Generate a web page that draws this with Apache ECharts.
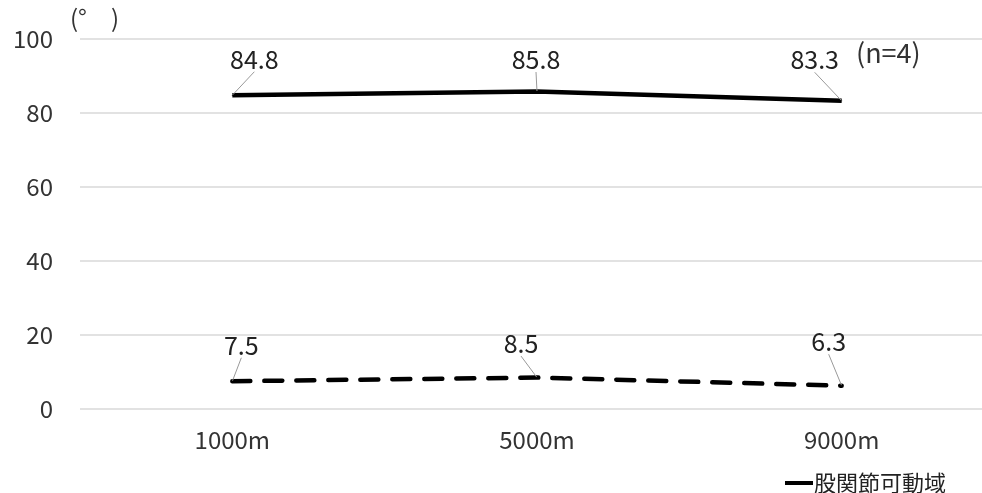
<!DOCTYPE html>
<html><head><meta charset="utf-8">
<script src="https://cdn.jsdelivr.net/npm/echarts@6/dist/echarts.min.js"></script>
<style>html,body{margin:0;padding:0;background:#fff}#c{width:982px;height:493px}</style>
</head><body><div id="c"></div>
<script>
const categories = ['1000m', '5000m', '9000m'];
const hipROM = [84.8, 85.8, 83.3];
const secondSeries = [7.5, 8.5, 6.3];
const yTicks = [0, 20, 40, 60, 80, 100];

const FONT = '"Noto Sans CJK JP", "Noto Sans", sans-serif';
const solidOffsets = [[22, -18], [-1, -14], [-27, -23]];
const dashOffsets = [[9, -18], [-16, -16], [-13, -26]];

const chart = echarts.init(document.getElementById('c'));
chart.setOption({
  animation: false,
  textStyle: { fontFamily: FONT },
  grid: { left: 80, width: 914, top: 39, bottom: 84, containLabel: false, outerBoundsMode: 'none' },
  xAxis: {
    type: 'category', data: categories, boundaryGap: true,
    axisLine: { show: false }, axisTick: { show: false },
    axisLabel: { fontSize: 24, color: '#333', margin: 19, fontFamily: FONT }
  },
  yAxis: {
    type: 'value', min: yTicks[0], max: yTicks[yTicks.length - 1], interval: 20,
    axisLine: { show: false }, axisTick: { show: false },
    axisLabel: { fontSize: 24, color: '#333', margin: 27, fontFamily: FONT },
    splitLine: { lineStyle: { color: '#d9d9d9', width: 1.5 } }
  },
  legend: {
    data: [{ name: '股関節可動域', icon: 'rect' }], left: 780, top: 467,
    itemWidth: 28, itemHeight: 4, itemGap: 4,
    textStyle: { fontSize: 22, color: '#222', fontFamily: FONT, padding: [0, 0, 0, -4] }
  },
  graphic: [
    { type: 'text', left: 70, top: 6, style: { text: '(°\u3000)', fontSize: 24, fill: '#333', fontFamily: FONT } },
    { type: 'text', left: 856, top: 39, style: { text: '(n=4)', fontSize: 27, fill: '#333', fontFamily: FONT } }
  ],
  series: [
    {
      name: '股関節可動域', type: 'line', data: hipROM, symbol: 'circle', symbolSize: 1, showSymbol: true,
      lineStyle: { color: '#000', width: 4.5 }, itemStyle: { color: '#000' },
      label: { show: true, position: 'top', fontSize: 25, color: '#222', fontFamily: FONT },
      labelLine: { show: true, lineStyle: { color: '#999', width: 1 } },
      labelLayout: p => ({ dx: solidOffsets[p.dataIndex][0], dy: solidOffsets[p.dataIndex][1] })
    },
    {
      name: 'other', type: 'line', data: secondSeries, symbol: 'circle', symbolSize: 1, showSymbol: true,
      lineStyle: { color: '#000', width: 4.5, type: [18, 14], cap: 'round' }, itemStyle: { color: '#000' },
      label: { show: true, position: 'top', fontSize: 25, color: '#222', fontFamily: FONT },
      labelLine: { show: true, lineStyle: { color: '#999', width: 1 } },
      labelLayout: p => ({ dx: dashOffsets[p.dataIndex][0], dy: dashOffsets[p.dataIndex][1] })
    }
  ]
});
</script></body></html>
